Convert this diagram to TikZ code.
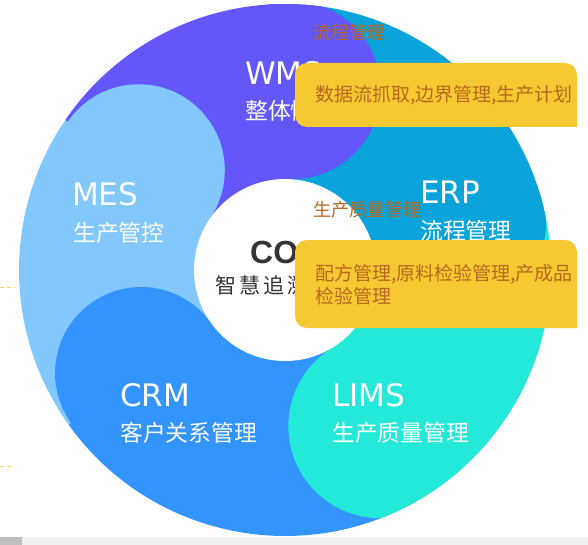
\documentclass[tikz,border=0pt]{standalone}
\usepackage{fontspec}
\setmainfont{Liberation Sans}
\newfontfamily\cjk{Noto Sans CJK SC}
\newfontfamily\tagfont{DejaVu Sans}
\usepackage{tikz}
\definecolor{wms}{HTML}{6357FA}
\definecolor{erp}{HTML}{0AA3DA}
\definecolor{mes}{HTML}{82C8FC}
\definecolor{crm}{HTML}{3294FC}
\definecolor{lims}{HTML}{24E9D9}
\definecolor{callout}{HTML}{F6C932}
\definecolor{notetext}{HTML}{B8681E}
\definecolor{coretext}{HTML}{333333}
\definecolor{dashcol}{HTML}{F9D66E}
\tikzstyle{tag}=[anchor=base west, inner sep=0pt, text=white, font=\tagfont\fontsize{31}{31}\selectfont]
\tikzstyle{sub}=[anchor=base west, inner sep=0pt, text=white, font=\cjk\fontsize{22.8}{22.8}\selectfont]
\tikzstyle{note}=[anchor=base west, inner sep=0pt, text=notetext, font=\cjk\fontsize{18}{18}\selectfont]
\tikzstyle{tip}=[note, font=\cjk\fontsize{19}{23}\selectfont]
\tikzstyle{title}=[anchor=base west, inner sep=0pt, text=coretext, font=\bfseries\fontsize{32}{32}\selectfont]
\tikzstyle{titlesub}=[anchor=base west, inner sep=0pt, text=coretext, font=\cjk\fontsize{21}{21}\selectfont]

\begin{document}
\begin{tikzpicture}[x=1pt,y=1pt]
        \useasboundingbox[fill=white] (0,0) rectangle (588,-545);
        \coordinate (O) at (285,-270);

        % Sectores
        \foreach \a/\b/\c in {87.8/145.7/wms, 145.7/215.6/mes, 215.6/301.4/crm, 301.4/375/lims, 15/87.8/erp}
            \fill[\c] (O) -- ++(\a:266) arc[start angle=\a, end angle=\b, radius=266] -- cycle;

        % Lobulos
        \begin{scope}
            \clip (O) circle[radius=266];
            \foreach \a/\d/\r/\c in {87.8/180/89/wms, 145.7/177/86/mes, 215.6/177/86/crm, 301.4/183/92/lims, 15/179/88/erp}
                \fill[\c] (O) ++(\a:\d) circle[radius=\r];
        \end{scope}

        % Centro
        \fill[white] (O) circle[radius=91];
        \node[title] (core) at (250,-263) {COOS};
        \node[titlesub] (coresub) at (215,-293) {智\kern3pt慧\kern3pt追\kern3pt溯\kern3pt平\kern3pt台};

        % Etiquetas
        \node[tag] (wmstag) at (245,-85) {WMS};
        \node[sub] (wmssub) at (245,-120) {整体情况};
        \node[tag] (mestag) at (72,-205) {MES};
        \node[sub] (messub) at (73,-241) {生产管控};
        \node[tag] (erptag) at (420,-204) {ERP};
        \node[sub] (erpsub) at (420,-240) {流程管理};
        \node[tag] (crmtag) at (120,-406) {CRM};
        \node[sub] (crmsub) at (120,-441) {客户关系管理};
        \node[tag] (limstag) at (332,-406) {LIMS};
        \node[sub] (limssub) at (332,-441) {生产质量管理};

        % Notas
        \node[note] (note1) at (313,-40) {流程管理};
        \fill[callout] (577,-127) -- (307,-127) arc[start angle=270, end angle=180, radius=12]
            -- (295,-75) arc[start angle=180, end angle=90, radius=12]
            -- (565,-63) arc[start angle=90, end angle=0, radius=12] -- cycle;
        \node[tip] (tip1) at (315,-102) {数据流抓取,边界管理,生产计划};

        \node[note] (note2) at (313,-216) {生产质量管理};
        \fill[callout] (577,-328) -- (307,-328) arc[start angle=270, end angle=180, radius=12]
            -- (295,-252) arc[start angle=180, end angle=90, radius=12]
            -- (565,-240) arc[start angle=90, end angle=0, radius=12] -- cycle;
        \node[tip, align=left, anchor=north west] (tip2) at (315,-264) {配方管理,原料检验管理,产成品\\检验管理};

        % Bordes
        \draw[dashcol, line width=1pt, dash pattern=on 4pt off 3pt] (0,-287) -- (15,-287);
        \draw[dashcol, line width=1pt, dash pattern=on 4pt off 3pt] (0,-466) -- (12,-466);
        \fill[black!6] (0,-537) rectangle (588,-545);
        \fill[black!25] (0,-537) rectangle (22,-545);
    \end{tikzpicture}
\end{document}
